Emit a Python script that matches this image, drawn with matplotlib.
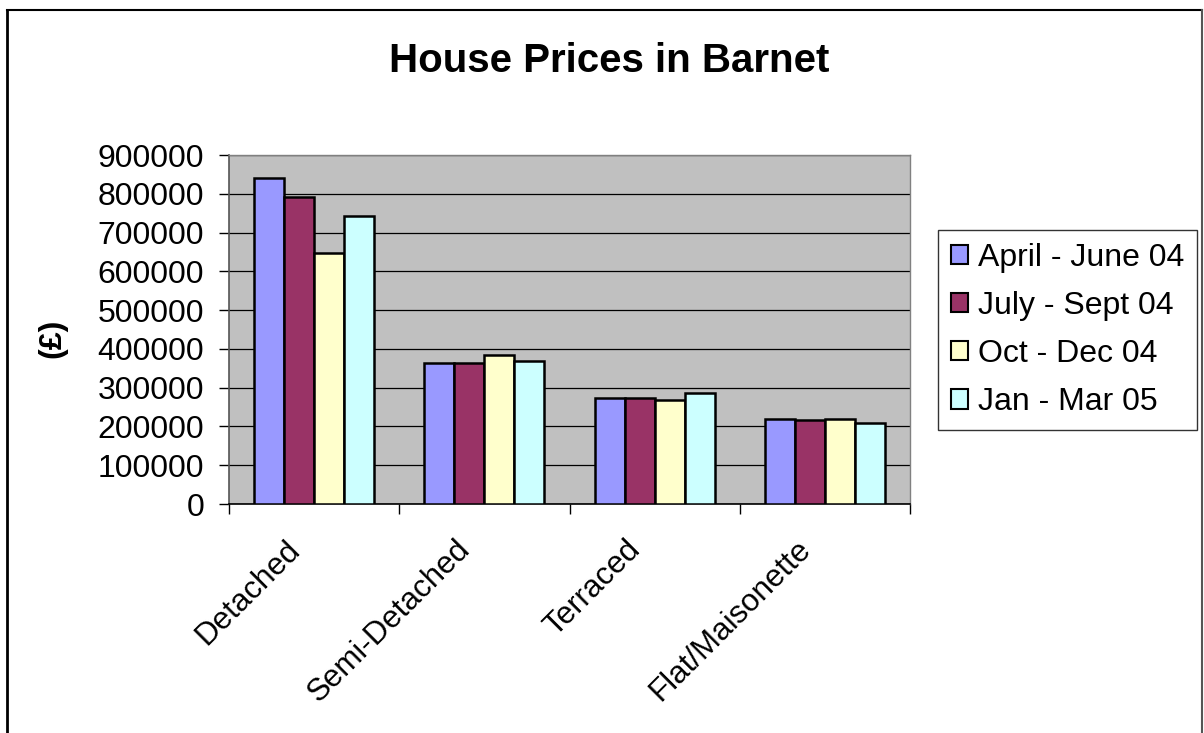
import matplotlib
matplotlib.use("Agg")
import matplotlib.pyplot as plt
import matplotlib.transforms as mtransforms
import numpy as np
from matplotlib.lines import Line2D
from matplotlib.patches import Patch
from matplotlib.ticker import FuncFormatter, MultipleLocator

categories = ["Detached", "Semi-Detached", "Terraced", "Flat/Maisonette"]
series_names = ["April - June 04", "July - Sept 04", "Oct - Dec 04", "Jan - Mar 05"]
apr_jun_04 = [840000, 364000, 274000, 220000]
jul_sep_04 = [791000, 364000, 274000, 216000]
oct_dec_04 = [647000, 383000, 268000, 220000]
jan_mar_05 = [743000, 370000, 287000, 209000]
series_values = [apr_jun_04, jul_sep_04, oct_dec_04, jan_mar_05]
colors = ["#9999FF", "#993366", "#FFFFCC", "#CCFFFF"]

plt.rcParams['font.family'] = ['Liberation Sans', 'DejaVu Sans']

W, H = 1204, 733
fig = plt.figure(figsize=(W / 100, H / 100), dpi=100)
fig.patch.set_facecolor("white")

# outer chart border
fig.add_artist(Line2D([7 / W, 7 / W], [-0.05, 1 - 10 / H], transform=fig.transFigure, color="black", lw=2))
fig.add_artist(Line2D([7 / W, 1202 / W], [1 - 10 / H, 1 - 10 / H], transform=fig.transFigure, color="black", lw=1.5))
fig.add_artist(Line2D([1202 / W, 1202 / W], [-0.05, 1 - 10 / H], transform=fig.transFigure, color="#555555", lw=1.5))

left, right = 229 / W, 910 / W
bottom, top = 1 - 504 / H, 1 - 155 / H
ax = fig.add_axes([left, bottom, right - left, top - bottom])
ax.set_facecolor("#C0C0C0")

x = np.arange(len(categories))
w = 30 / 170
for j, (vals, c) in enumerate(zip(series_values, colors)):
    ax.bar(x + (j - 1.5) * w, vals, width=w, color=c, edgecolor="black", linewidth=1.8, zorder=3)

ax.set_xlim(-0.5, len(categories) - 0.5)
ax.set_ylim(0, 900000)
ax.yaxis.set_major_locator(MultipleLocator(100000))
ax.yaxis.set_major_formatter(FuncFormatter(lambda v, p: "%d" % v))
ax.grid(axis="y", color="black", linewidth=0.9, zorder=1)
ax.set_axisbelow(True)

ax.set_xticks(np.arange(len(categories) + 1) - 0.5)
ax.set_xticklabels([])
ax.set_xticks(x, minor=True)
ax.set_xticklabels(categories, minor=True, rotation=45, ha="right", va="top",
                   rotation_mode="anchor", fontsize=22.5)
ax.tick_params(axis="x", which="minor", length=0, pad=14)
ax.tick_params(axis="x", which="major", length=7, width=1, color="black", direction="out")
ax.tick_params(axis="y", length=7, width=1, color="black", labelsize=23, pad=11)

offset = mtransforms.ScaledTranslation(-29 / 100, -11 / 100, fig.dpi_scale_trans)
for lab in ax.get_xticklabels(minor=True):
    lab.set_transform(lab.get_transform() + offset)

for s in ["top", "right"]:
    ax.spines[s].set_color("#808080")
    ax.spines[s].set_linewidth(1)
ax.spines["left"].set_color("#555555")
ax.spines["left"].set_linewidth(1.2)
ax.spines["bottom"].set_color("black")
ax.spines["bottom"].set_linewidth(1.2)

fig.text(609 / W, 1 - 61 / H, "House Prices in Barnet", ha="center", va="center",
         fontsize=29, fontweight="bold")
fig.text(52 / W, 1 - 338 / H, "(£)", ha="center", va="center", rotation=90,
         fontsize=23, fontweight="bold")

handles = [Patch(facecolor=c, edgecolor="black", linewidth=1.5) for c in colors]
leg = fig.legend(handles, series_names, loc="center left",
                 bbox_to_anchor=(938 / W, 1 - 330 / H), fontsize=23,
                 frameon=True, fancybox=False, edgecolor="black",
                 handlelength=0.55, handleheight=0.55, handletextpad=0.3,
                 labelspacing=0.57, borderpad=0.4, borderaxespad=0)
leg.get_frame().set_linewidth(1)

fig.savefig("out.png", dpi=100, facecolor="white")
